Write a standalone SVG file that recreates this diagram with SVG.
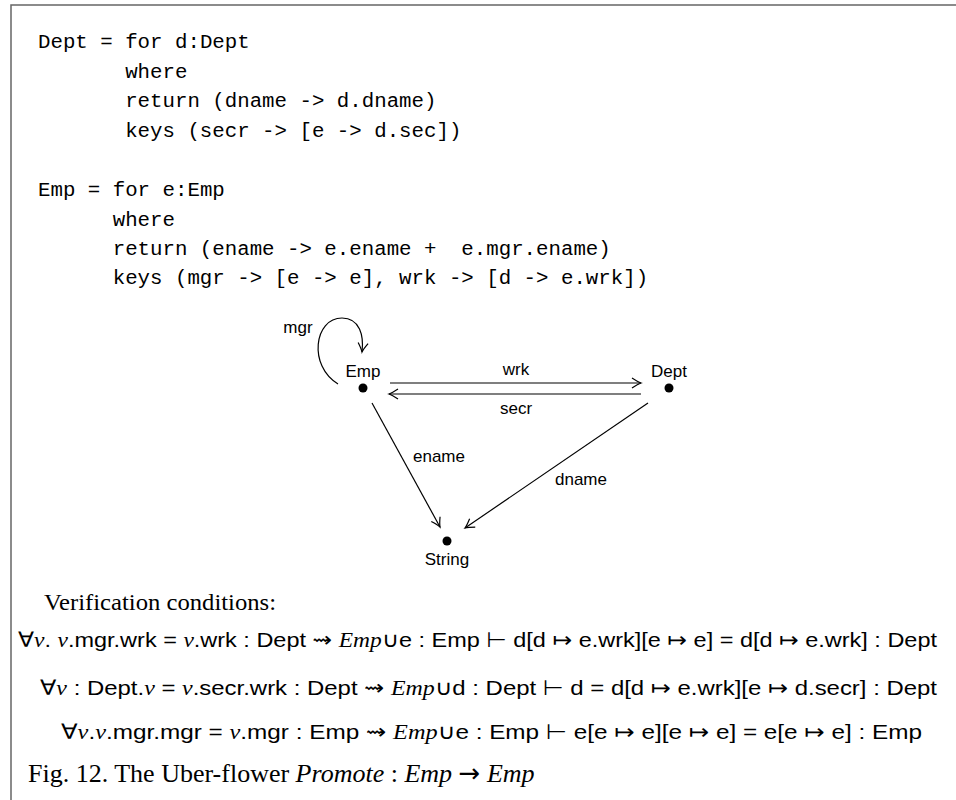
<svg xmlns="http://www.w3.org/2000/svg" width="956" height="800" viewBox="0 0 956 800">
<defs>
<style>
.code{font-family:"Liberation Mono","DejaVu Sans Mono",monospace;font-size:20.75px;fill:#000}
.lbl{font-family:"Liberation Sans","DejaVu Sans",sans-serif;font-size:17px;fill:#000}
.edge{fill:none;stroke:#000;stroke-width:1.2}
.dot{fill:#000}
.serif{font-family:"Liberation Serif","DejaVu Serif",serif;fill:#000}
.f{font-family:"Liberation Sans","DejaVu Sans",sans-serif;font-size:21px;fill:#000}
.i{font-family:"Liberation Serif","DejaVu Serif",serif;font-style:italic}
.sym{font-family:"DejaVu Sans",sans-serif}
</style>
<marker id="ah" viewBox="-10 -6 12 12" refX="0" refY="0" markerWidth="12" markerHeight="12" markerUnits="userSpaceOnUse" orient="auto">
<path d="M -9 -5 Q -3 -1 0 0 Q -3 1 -9 5" fill="none" stroke="#000" stroke-width="1.2"/>
</marker>
</defs>
<rect width="956" height="800" fill="#fff"/>
<path d="M 11 800 L 11 5 L 956 5" fill="none" stroke="#666" stroke-width="1.5"/>

<g id="code">
<text class="code" x="38" y="48">Dept = for d:Dept</text>
<text class="code" x="125.15" y="78">where</text>
<text class="code" x="125.15" y="107">return (dname -&gt; d.dname)</text>
<text class="code" x="125.15" y="137">keys (secr -&gt; [e -&gt; d.sec])</text>
<text class="code" x="38" y="196">Emp = for e:Emp</text>
<text class="code" x="112.7" y="226">where</text>
<text class="code" x="112.7" y="255" xml:space="preserve">return (ename -&gt; e.ename +  e.mgr.ename)</text>
<text class="code" x="112.7" y="284">keys (mgr -&gt; [e -&gt; e], wrk -&gt; [d -&gt; e.wrk])</text>
</g>

<g id="connectors">
<path class="edge" d="M 390 383 L 641 383" marker-end="url(#ah)"/>
<path class="edge" d="M 641 394 L 389 394" marker-end="url(#ah)"/>
<path class="edge" d="M 372 403 L 440 527" marker-end="url(#ah)"/>
<path class="edge" d="M 648 403 L 465 528" marker-end="url(#ah)"/>
<path class="edge" d="M 338 384 C 308 366 314 318 342 318 C 360 318 364 336 362 352" marker-end="url(#ah)"/>
<text class="lbl" x="516" y="375" text-anchor="middle">wrk</text>
<text class="lbl" x="516" y="414" text-anchor="middle">secr</text>
<text class="lbl" x="413" y="462">ename</text>
<text class="lbl" x="555" y="485">dname</text>
<text class="lbl" x="298" y="333" text-anchor="middle">mgr</text>
</g>

<g id="node-emp">
<circle class="dot" cx="363" cy="388" r="4.5"/>
<text class="lbl" x="363" y="377" text-anchor="middle">Emp</text>
</g>
<g id="node-dept">
<circle class="dot" cx="669" cy="388" r="4.5"/>
<text class="lbl" x="669" y="377" text-anchor="middle">Dept</text>
</g>
<g id="node-string">
<circle class="dot" cx="447" cy="541" r="4.5"/>
<text class="lbl" x="447" y="565" text-anchor="middle">String</text>
</g>

<g id="conditions">
<text class="serif" x="44" y="610" font-size="24" textLength="232" lengthAdjust="spacingAndGlyphs">Verification conditions:</text>
<text class="f" x="18" y="647" textLength="919" lengthAdjust="spacingAndGlyphs"><tspan class="sym">∀</tspan><tspan class="i">v</tspan>. <tspan class="i">v</tspan>.mgr.wrk = <tspan class="i">v</tspan>.wrk : Dept <tspan class="sym">⇝</tspan> <tspan class="i">Emp</tspan><tspan class="sym">∪</tspan>e : Emp <tspan class="sym">⊢</tspan>  d[d <tspan class="sym">↦</tspan> e.wrk][e <tspan class="sym">↦</tspan> e] = d[d <tspan class="sym">↦</tspan> e.wrk] : Dept</text>
<text class="f" x="40" y="695" textLength="897" lengthAdjust="spacingAndGlyphs"><tspan class="sym">∀</tspan><tspan class="i">v</tspan> : Dept.<tspan class="i">v</tspan> = <tspan class="i">v</tspan>.secr.wrk : Dept  <tspan class="sym">⇝</tspan>  <tspan class="i">Emp</tspan><tspan class="sym">∪</tspan>d : Dept <tspan class="sym">⊢</tspan> d = d[d <tspan class="sym">↦</tspan> e.wrk][e <tspan class="sym">↦</tspan> d.secr] : Dept</text>
<text class="f" x="61" y="739" textLength="861" lengthAdjust="spacingAndGlyphs"><tspan class="sym">∀</tspan><tspan class="i">v</tspan>.<tspan class="i">v</tspan>.mgr.mgr = <tspan class="i">v</tspan>.mgr : Emp  <tspan class="sym">⇝</tspan>  <tspan class="i">Emp</tspan><tspan class="sym">∪</tspan>e : Emp <tspan class="sym">⊢</tspan> e[e <tspan class="sym">↦</tspan> e][e <tspan class="sym">↦</tspan> e] = e[e <tspan class="sym">↦</tspan> e] : Emp</text>
<text class="serif" x="28" y="782" font-size="26">Fig. 12.  The Uber-flower <tspan class="i">Promote</tspan> : <tspan class="i">Emp</tspan> <tspan class="sym">→</tspan> <tspan class="i">Emp</tspan></text>
</g>
</svg>
